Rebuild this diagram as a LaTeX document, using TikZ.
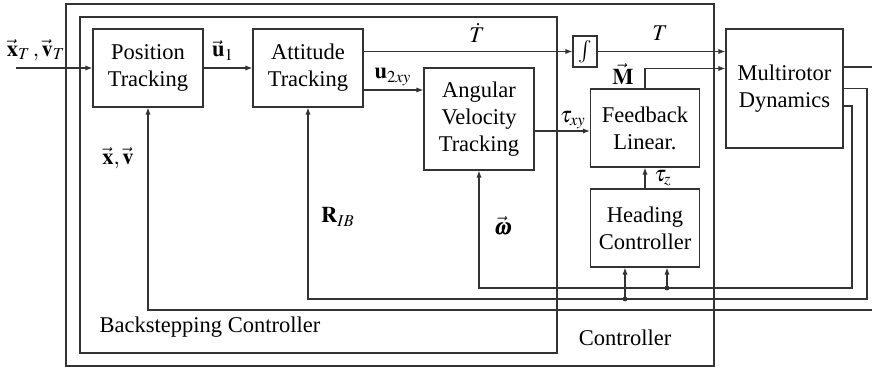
\documentclass[tikz,border=0pt]{standalone}
\usepackage{amsmath}
\usepackage{mathptmx}
\usepackage{bm}
\usepackage{fontspec}
\setmainfont{Liberation Serif}
\usetikzlibrary{arrows.meta,calc}
\begin{document}
\begin{tikzpicture}[x=0.5pt,y=-0.5pt,
  font=\fontsize{11.25}{13.4}\selectfont,
  line/.style={draw=black!80, line width=0.55pt},
  arr/.style={line, -{Latex[length=3.5pt,width=2.6pt]}},
  box/.style={line, rectangle, align=center, inner sep=0pt},
  lbl/.style={inner sep=0pt},
  dot/.style={circle, fill=black!80, inner sep=0pt, minimum size=2.4pt}]
\useasboundingbox (0,0) rectangle (872,367);
\clip (0,0) rectangle (872,367);
% containers
\draw[line] (66,4) rectangle (714,366);
\draw[line] (80,17) rectangle (557,353);
% blocks
\node[box, minimum width=55pt, minimum height=39pt] (pos) at (148,68) {Position\\Tracking};
\node[box, minimum width=55pt, minimum height=39pt] (att) at (308,68) {Attitude\\Tracking};
\node[box, minimum width=55pt, minimum height=51pt] (ang) at (479,119) {Angular\\Velocity\\Tracking};
\node[box, minimum width=12pt, minimum height=15.5pt] (int) at (585,51.5) {$\int$};
\node[box, minimum width=54.5pt, minimum height=39pt] (fb) at (645,128) {Feedback\\Linear.};
\node[box, minimum width=54.5pt, minimum height=39pt] (head) at (645,228) {Heading\\Controller};
\node[box, minimum width=58.5pt, minimum height=59.5pt] (dyn) at (784.5,88.5) {Multirotor\\Dynamics};
% helper coordinates
\coordinate (in) at (16,68);
\coordinate (u2) at (0,90);
\coordinate (txy) at (0,131);
\coordinate (mln) at (0,68.5);
\coordinate (oxv) at (0,67);
\coordinate (orib) at (0,88.7);
\coordinate (oom) at (0,106);
\coordinate (xvr) at (890,310);
\coordinate (ribx) at (867,299);
\coordinate (omx) at (852,288);
\coordinate (dr) at (625,299);
\coordinate (dw) at (667,288);
% forward connections
\draw[arr] (in) -- (pos.west);
\draw[arr] (pos.east) -- (att.west);
\draw[arr] (att.east |- int.west) -- (int.west);
\draw[arr] (int.east) -- (int.east -| dyn.west);
\draw[arr] (att.east |- u2) -- (ang.west |- u2);
\draw[arr] (ang.east |- txy) -- (fb.west |- txy);
\draw[arr] (fb.north) -- (fb.north |- mln) -- (dyn.west |- mln);
\draw[arr] (head.north) -- (fb.south);
% feedback connections
\draw[arr] (dyn.east |- oxv) -- (xvr |- oxv) -- (xvr) -- (xvr -| pos.south) -- (pos.south);
\draw[arr] (dyn.east |- orib) -- (ribx |- orib) -- (ribx) -- (ribx -| att.south) -- (att.south);
\draw[arr] (dyn.east |- oom) -- (omx |- oom) -- (omx) -- (omx -| ang.south) -- (ang.south);
\draw[arr] (dr) -- (dr |- head.south);
\draw[arr] (dw) -- (dw |- head.south);
\node[dot] at (dr) {};
\node[dot] at (dw) {};
% labels
\node[lbl] at (36,50) {$\vec{\mathbf{x}}_T\,,\vec{\mathbf{v}}_T$};
\node[lbl] at (223,50) {$\vec{\mathbf{u}}_1$};
\node[lbl] at (477,33) {$\dot{T}$};
\node[lbl] at (660,33) {$T$};
\node[lbl] at (623,74) {$\vec{\mathbf{M}}$};
\node[lbl] at (393,77) {$\mathbf{u}_{2xy}$};
\node[lbl] at (573,120) {$\tau_{xy}$};
\node[lbl] at (663,178) {$\tau_z$};
\node[lbl] at (118,158) {$\vec{\mathbf{x}},\vec{\mathbf{v}}$};
\node[lbl] at (338,217) {$\mathbf{R}_{IB}$};
\node[lbl] at (503,226) {$\vec{\bm{\omega}}$};
\node[lbl] at (210,327) {Backstepping Controller};
\node[lbl] at (625,338) {Controller};
\end{tikzpicture}
\end{document}
